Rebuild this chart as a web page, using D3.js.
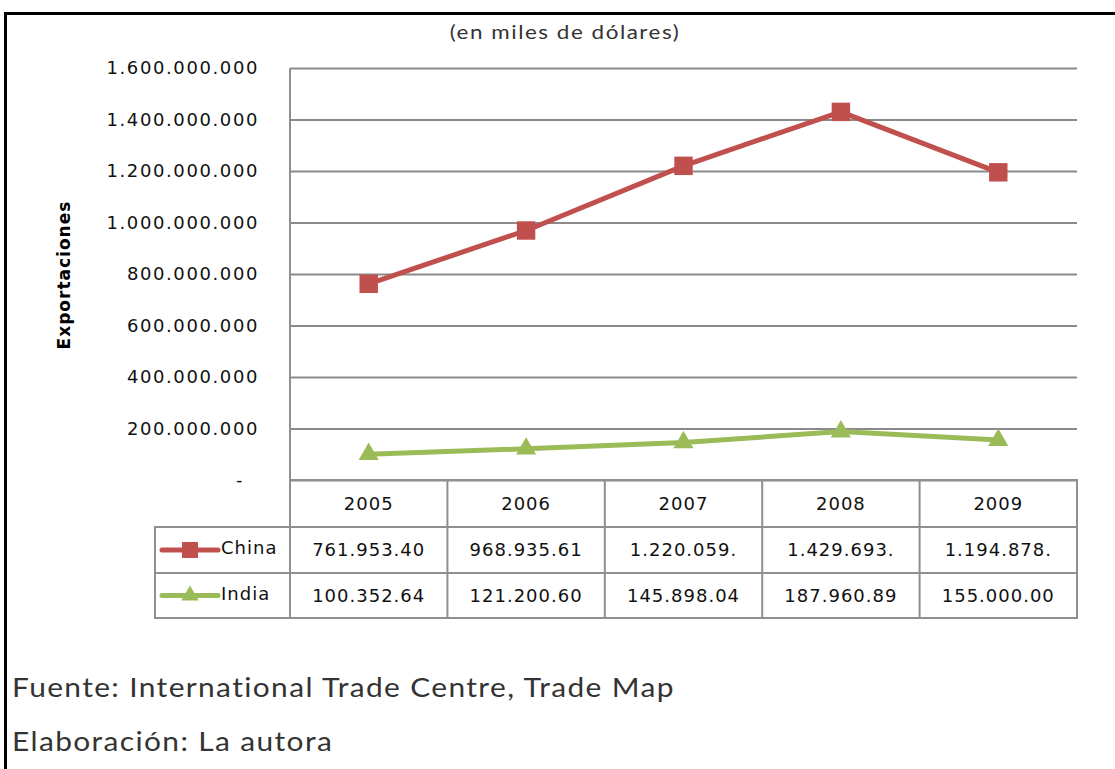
<!DOCTYPE html>
<html>
<head>
<meta charset="utf-8">
<script src="https://cdn.jsdelivr.net/npm/d3@7"></script>
<style>
body { margin: 0; background: white; }
svg { display: block; }
.grid line { stroke: #8a8a8a; stroke-width: 2; }
.grid path { display: none; }
.ylab text { font-family: "DejaVu Sans", sans-serif; font-size: 18px; fill: #111; letter-spacing: 1.6px; }
.cell { font-family: "DejaVu Sans", sans-serif; font-size: 18px; fill: #111; letter-spacing: 1px; }
.frame { stroke: #000; stroke-width: 3; fill: none; }
.tbl { stroke: #8f8f8f; stroke-width: 2; }
.note { font-family: Lato, sans-serif; fill: #333; }
</style>
</head>
<body>
<svg id="chart"></svg>
<script>
var years = ["2005", "2006", "2007", "2008", "2009"]
var china = [761953400, 968935610, 1220059000, 1429693000, 1194878000]
var india = [100352640, 121200600, 145898040, 187960890, 155000000]
var chinaLabels = ["761.953.40", "968.935.61", "1.220.059.", "1.429.693.", "1.194.878."]
var indiaLabels = ["100.352.64", "121.200.60", "145.898.04", "187.960.89", "155.000.00"]
var yTicks = [0, 200000000, 400000000, 600000000, 800000000, 1000000000, 1200000000, 1400000000, 1600000000]

var width = 1115
var height = 769

var svg = d3.select("#chart")
    .attr("width", width)
    .attr("height", height)

var x0 = 290, x1 = 1077, yTop = 68, yBase = 480
var row1 = 527, row2 = 573, row3 = 618, legLeft = 155

var x = d3.scaleBand().domain(years).range([x0, x1])
var y = d3.scaleLinear().domain([0, 1600000000]).range([yBase, yTop])

var es = d3.formatLocale({decimal: ",", thousands: ".", grouping: [3], currency: ["", ""]})
var fmt = es.format(",")

// frame
svg.append("path")
    .attr("class", "frame")
    .attr("d", "M5.5," + height + " L5.5,13.5 L" + width + ",13.5")

// century gothic is wide, so stretch the lato text a bit
svg.append("text")
    .attr("class", "note")
    .attr("transform", "translate(565,39) scale(1.18,1)")
    .attr("text-anchor", "middle")
    .style("font-size", "19px")
    .style("letter-spacing", "1.3px")
    .text("(en miles de dólares)")

// gridlines
svg.append("g")
    .attr("class", "grid")
    .attr("transform", "translate(" + x0 + ",0)")
    .call(d3.axisLeft(y).tickValues(yTicks).tickSize(-(x1 - x0)).tickFormat(""))

// y labels
svg.append("g")
    .attr("class", "ylab")
    .selectAll("text")
    .data(yTicks)
    .enter()
    .append("text")
    .attr("x", function(d) { return d == 0 ? 244 : 259 })
    .attr("y", function(d) { return y(d) })
    .attr("dy", "0.35em")
    .attr("text-anchor", "end")
    .text(function(d) { return d == 0 ? "-" : fmt(d) })

svg.append("text")
    .attr("transform", "translate(70,275) rotate(-90)")
    .attr("text-anchor", "middle")
    .style("font-family", "'DejaVu Sans', sans-serif")
    .style("font-weight", "bold")
    .style("font-size", "17px")
    .style("letter-spacing", "1px")
    .style("fill", "#000")
    .text("Exportaciones")

// table lines
var tbl = svg.append("g")
tbl.append("line").attr("class", "tbl").attr("x1", x0).attr("x2", x0).attr("y1", yTop).attr("y2", row3)
tbl.selectAll("line.h")
    .data([[x0, yBase], [legLeft, row1], [legLeft, row2], [legLeft, row3]])
    .enter()
    .append("line")
    .attr("class", "tbl")
    .attr("x1", function(d) { return d[0] - 1 })
    .attr("x2", x1 + 1)
    .attr("y1", function(d) { return d[1] })
    .attr("y2", function(d) { return d[1] })
tbl.selectAll("line.v")
    .data(years)
    .enter()
    .append("line")
    .attr("class", "tbl")
    .attr("x1", function(d) { return x(d) + x.bandwidth() })
    .attr("x2", function(d) { return x(d) + x.bandwidth() })
    .attr("y1", yBase)
    .attr("y2", row3)
tbl.append("line").attr("class", "tbl").attr("x1", legLeft).attr("x2", legLeft).attr("y1", row1).attr("y2", row3)

function cellRow(labels, yy) {
    svg.append("g").selectAll("text")
        .data(labels)
        .enter()
        .append("text")
        .attr("class", "cell")
        .attr("x", function(d, i) { return x(years[i]) + x.bandwidth() / 2 })
        .attr("y", yy)
        .attr("dy", "0.35em")
        .attr("text-anchor", "middle")
        .text(function(d) { return d })
}
cellRow(years, (yBase + row1) / 2)
cellRow(chinaLabels, (row1 + row2) / 2)
cellRow(indiaLabels, (row2 + row3) / 2)

var series = [
    {name: "China", values: china, color: "#c0504d", shape: d3.symbolSquare, size: 340, rowY: (row1 + row2) / 2},
    {name: "India", values: india, color: "#9bbb59", shape: d3.symbolTriangle, size: 175, rowY: (row2 + row3) / 2}
]

var line = d3.line()
    .x(function(d, i) { return x(years[i]) + x.bandwidth() / 2 })
    .y(function(d) { return y(d) })

series.forEach(function(s) {
    svg.append("path")
        .datum(s.values)
        .attr("fill", "none")
        .attr("stroke", s.color)
        .attr("stroke-width", 5)
        .attr("stroke-linejoin", "round")
        .attr("d", line)

    svg.append("g").selectAll("path")
        .data(s.values)
        .enter()
        .append("path")
        .attr("transform", function(d, i) { return "translate(" + (x(years[i]) + x.bandwidth() / 2) + "," + y(d) + ")" })
        .attr("d", d3.symbol().type(s.shape).size(s.size))
        .attr("fill", s.color)

    // legend key in table
    svg.append("line")
        .attr("x1", 162).attr("x2", 218)
        .attr("y1", s.rowY).attr("y2", s.rowY)
        .attr("stroke", s.color)
        .attr("stroke-width", 5)
        .attr("stroke-linecap", "round")
    svg.append("path")
        .attr("transform", "translate(190," + s.rowY + ")")
        .attr("d", d3.symbol().type(s.shape).size(s.size * 0.75))
        .attr("fill", s.color)
    svg.append("text")
        .attr("class", "cell")
        .attr("x", 221)
        .attr("y", s.rowY - 2)
        .attr("dy", "0.35em")
        .text(s.name)
})

svg.append("text")
    .attr("class", "note")
    .attr("transform", "translate(12,697) scale(1.15,1)")
    .style("font-size", "26px")
    .style("letter-spacing", "1.2px")
    .text("Fuente: International Trade Centre, Trade Map")

svg.append("text")
    .attr("class", "note")
    .attr("transform", "translate(12,751) scale(1.15,1)")
    .style("font-size", "26px")
    .style("letter-spacing", "1.2px")
    .text("Elaboración: La autora")
</script>
</body>
</html>
